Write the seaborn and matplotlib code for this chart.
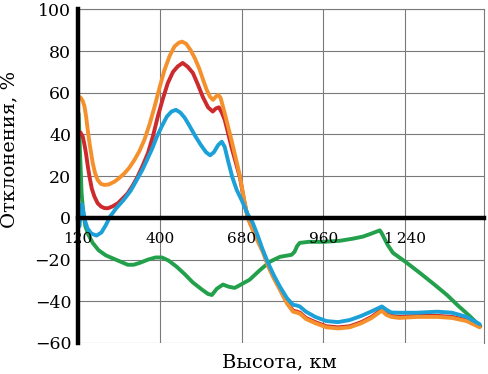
import pandas as pd
import matplotlib
matplotlib.use("Agg")
import matplotlib.pyplot as plt
import seaborn as sns

# Values (height in km, deviation in %)
orange_x = [125, 130, 136, 142, 148, 153, 160, 170, 178, 187, 198, 210, 225, 245, 260, 279, 295, 313,
            330, 347, 365, 382, 400, 416, 433, 450, 465, 476, 490, 505, 520, 535, 548, 560, 572, 582,
            592, 600, 608, 622, 633, 645, 660, 674, 688, 701, 720, 736, 753, 770, 790, 811, 835, 856,
            870, 880, 900, 932, 970, 1010, 1050, 1090, 1125, 1160, 1175, 1192, 1220, 1280, 1350, 1400,
            1450, 1495]
orange_y = [58, 57.4, 56, 53.4, 48, 42.2, 35, 26.4, 21.5, 18.2, 16.3, 15.8, 16, 17.4, 19, 21.4, 24, 27.8,
            32, 37.4, 45, 53.4, 63, 71, 77.5, 82.2, 84, 84.5, 83.5, 80.5, 76.5, 71.5, 66.2, 61.5, 58, 56.6,
            58.2, 59, 57.5, 50.2, 44, 37.4, 28.5, 20, 9, 0, -6.5, -11.5, -16.5, -23, -29, -34.5, -41, -45,
            -45.5, -46, -48.5, -50.5, -52.5, -53, -52.5, -50.5, -48, -44.5, -46.5, -47.5, -48, -47.5, -47.5, -48,
            -49.5, -52.5]

red_x = [128, 136, 142, 147, 153, 159, 167, 176, 187, 199, 210, 222, 238, 256, 272, 290, 307, 324, 341,
         359, 376, 393, 410, 427, 445, 461, 478, 495, 513, 530, 547, 565, 581, 592, 602, 612, 622, 633,
         645, 660, 674, 688, 701, 720, 736, 753, 770, 790, 811, 835, 856, 870, 880, 900, 932, 970, 1010,
         1050, 1090, 1125, 1160, 1175, 1192, 1220, 1280, 1350, 1400, 1450, 1495]
red_y = [41, 39, 35, 31, 25, 19.8, 14, 10.2, 7, 5.4, 4.7, 4.6, 5.5, 7, 9.2, 11.8, 15.5, 19.8, 25,
         31, 39, 48.6, 57, 64.6, 70, 72.6, 74.3, 72.5, 69.5, 64, 58, 53, 51, 52.5, 53, 50.5, 47, 41,
         34, 26.5, 19.5, 8.5, 0, -6, -11, -16, -22.5, -28.5, -34, -40.5, -44.5, -45, -45.5, -48, -50, -52, -52.5,
         -52, -50, -47.5, -44, -46, -47, -47.5, -47, -47, -47.5, -49, -52]

blue_x = [125, 129, 133, 137, 143, 152, 165, 183, 200, 215, 229, 250, 276, 300, 321, 340, 356, 373, 390,
          407, 424, 440, 455, 470, 485, 500, 520, 540, 558, 572, 585, 600, 612, 622, 635, 648, 663, 680,
          700, 718, 735, 752, 770, 790, 811, 835, 856, 868, 879, 900, 932, 970, 1010, 1050, 1090, 1130,
          1160, 1175, 1192, 1220, 1280, 1350, 1400, 1450, 1495]
blue_y = [-4, 3, 6.5, 4, -1, -5, -7.5, -8.5, -7, -3.5, 0.5, 4.5, 8.6, 13, 18.2, 23, 27.8, 33, 39,
          44, 48.6, 51, 51.8, 50.5, 48, 44.5, 39.5, 35, 31.5, 30, 31.5, 35, 36.5, 34, 26.5, 19.5, 13.4, 8.5,
          2, -2.4, -8.5, -15.3, -21.5, -27.5, -33, -38.5, -41.7, -42, -42.5, -45, -47.5, -49.5, -50, -49, -47, -44.5,
          -42.5, -44, -45.4, -45.5, -45.5, -45, -45.5, -47.5, -51]

green_x = [122, 127, 132, 138, 145, 155, 170, 190, 215, 240, 265, 290, 310, 331, 360, 385, 407, 430, 458,
           485, 513, 545, 565, 578, 595, 616, 635, 656, 671, 690, 707, 743, 777, 811, 851, 861, 870, 879,
           910, 960, 1016, 1060, 1095, 1125, 1153, 1160, 1180, 1198, 1240, 1290, 1340, 1383, 1420, 1460, 1497]
green_y = [50, 30, 12, 2, -4, -8, -12, -15.5, -18, -19.5, -21, -22.5, -22.5, -21.6, -20, -19, -19, -20.5, -23.5,
           -27, -31, -34.5, -36.5, -37, -34, -32, -33, -33.6, -32.5, -31, -29.7, -25, -21, -18.7, -17.7, -16.3, -13.5, -12,
           -11.5, -11.5, -11, -10, -9, -7.5, -6, -7.5, -13, -16.8, -21, -26.4, -32, -37, -42, -47, -52]

x_ticks = [120, 400, 680, 960, 1240]
x_tick_labels = ["120", "400", "680", "960", "1\u2009240"]
y_ticks = [-60, -40, -20, 0, 20, 40, 60, 80, 100]
y_tick_labels = ["\u221260", "\u221240", "\u221220", "0", "20", "40", "60", "80", "100"]

palette = {"green": "#22a04b", "red": "#cc2a2d", "orange": "#f5912c", "blue": "#1ba0d8"}

frames = []
for name, xs, ys in [("green", green_x, green_y), ("red", red_x, red_y),
                     ("orange", orange_x, orange_y), ("blue", blue_x, blue_y)]:
    frames.append(pd.DataFrame({"h": xs, "d": ys, "s": name}))
df = pd.concat(frames, ignore_index=True)

sns.set_theme(style="white")
plt.rcParams["font.family"] = ["DejaVu Serif"]

fig = plt.figure(figsize=(4.88, 3.74), dpi=100)
ax = fig.add_axes([0.160, 0.083, 0.832, 0.892])

for t in x_ticks:
    ax.axvline(t, color="#7a7a7a", lw=0.8, zorder=1)
ax.yaxis.grid(True, color="#7a7a7a", lw=0.8)
ax.xaxis.grid(False)

sns.lineplot(data=df, x="h", y="d", hue="s", hue_order=["green", "red", "orange", "blue"],
             palette=palette, sort=False, estimator=None, lw=2.8, legend=False, ax=ax)

ax.set_xlim(120, 1510)
ax.set_ylim(-60, 100)
ax.set_xticks(x_ticks)
ax.set_xticklabels(x_tick_labels, fontsize=12.5)
ax.set_yticks(y_ticks)
ax.set_yticklabels(y_tick_labels, fontsize=12.5)
ax.tick_params(axis="x", length=0, pad=10, colors="black")
ax.tick_params(axis="y", length=0, pad=5, colors="black")
ax.xaxis.set_zorder(3)

ax.spines["bottom"].set_position(("data", 0))
ax.spines["bottom"].set_linewidth(3.2)
ax.spines["bottom"].set_color("black")
ax.spines["bottom"].set_zorder(4)
ax.spines["left"].set_linewidth(3.2)
ax.spines["left"].set_color("black")
ax.spines["left"].set_zorder(4)
for side in ["top", "right"]:
    ax.spines[side].set_linewidth(0.8)
    ax.spines[side].set_color("#7a7a7a")

ax.set_xlabel("Высота, км", fontsize=14, color="black")
ax.xaxis.set_label_coords(0.497, -0.03)
ax.set_ylabel("Отклонения, %", fontsize=14, color="black")
ax.yaxis.set_label_coords(-0.148, 0.58)

fig.savefig("out.png", dpi=100)
